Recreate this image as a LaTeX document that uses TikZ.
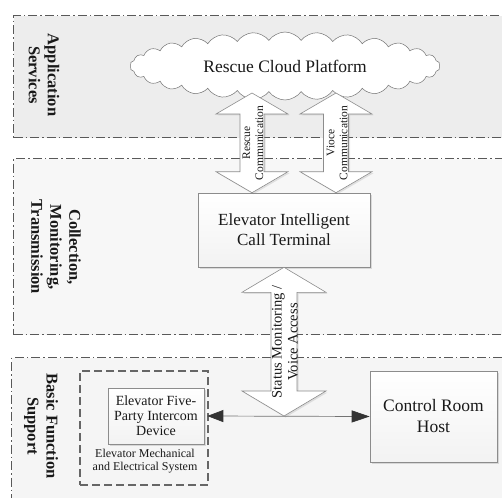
\documentclass[tikz,border=0pt]{standalone}
\usepackage{fontspec}
\setmainfont{Liberation Serif}
\usetikzlibrary{shapes.symbols,shadows,arrows.meta,calc}
\newcommand{\blockarrowv}[5]{% top tip, bottom tip, head half width, shaft half width, head length
  \draw[blk] (#1) -- ++(#3,#5) -- ++({#4-#3},0) -- ($(#2)+(#4,-#5)$) -- ++({#3-#4},0) -- (#2)
    -- ++(-#3,-#5) -- ++({#3-#4},0) -- ($(#1)+(-#4,#5)$) -- ++({#4-#3},0) -- cycle;}
\begin{document}
\begin{tikzpicture}[x=1pt,y=-1pt,
  panel/.style={draw=black!65, line width=1.1pt, dash pattern=on 9pt off 3pt on 1.5pt off 3pt,
    anchor=north west, minimum width=520pt, inner sep=0pt},
  lbl/.style={font=\fontsize{16.5}{19}\selectfont\bfseries, text=black!90, align=center, rotate=-90},
  box/.style={draw=black!45, line width=0.6pt, top color=white, bottom color=black!5,
    align=center, text=black!90, inner sep=0pt,
    drop shadow={opacity=0.25, shadow xshift=1.5pt, shadow yshift=-1.5pt}},
  blk/.style={draw=black!45, line width=0.6pt, fill=white,
    drop shadow={opacity=0.2, shadow xshift=1.5pt, shadow yshift=-1.5pt}},
  alab/.style={rotate=90, align=center, text=black!90},
  conn/.style={draw=black!55, line width=0.7pt,
    {Triangle[length=16pt,width=12pt,color=black!80]}-{Triangle[length=18pt,width=12pt,color=black!80]}}
]
\useasboundingbox (0,0) rectangle (502,497);
\clip (0,0) rectangle (502,497);
\fill[white] (0,0) rectangle (502,497);
% panels
\node[panel, fill=black!7, minimum height=122pt] (p1) at (13,15) {};
\node[panel, fill=black!3, minimum height=176pt] (p2) at (13,158) {};
\node[panel, fill=black!4, minimum height=160pt] (p3) at (11,357) {};
\node[lbl] (l1) at (44,75) {Application\\Services};
\node[lbl] (l2) at (56,247) {Collection,\\Monitoring,\\Transmission};
\node[lbl] (l3) at (41,426) {Basic Function\\Support};
% cloud
\node[cloud, cloud puffs=30, cloud puff arc=110, aspect=4.5, draw=black!55, line width=0.5pt,
  fill=white, minimum width=310pt, minimum height=68pt, inner sep=0pt,
  font=\fontsize{17.5}{20}\selectfont, text=black!90] (cloud) at (285,66) {Rescue Cloud Platform};
% boxes
\node[box, minimum width=172pt, minimum height=74pt, font=\fontsize{17}{20}\selectfont] (term) at (284,230)
  {Elevator Intelligent\\Call Terminal};
\node[box, minimum width=127pt, minimum height=91pt, font=\fontsize{17.5}{21}\selectfont] (ctrl) at (433.5,416.5)
  {Control Room\\Host};
\node[draw=black!60, line width=1.2pt, dash pattern=on 8pt off 4pt, minimum width=128pt, minimum height=114pt,
  inner sep=0pt] (mech) at (144,428) {};
\node[box, minimum width=96pt, minimum height=56pt, font=\fontsize{14}{15}\selectfont] (icom) at (156,416)
  {Elevator Five-\\Party Intercom\\Device};
\node[font=\fontsize{12}{13}\selectfont, align=center, text=black!90] (mechlbl) at (145,461)
  {Elevator Mechanical\\and Electrical System};
% horizontal connector
\draw[conn] ($(icom.east)+(3,0)$) -- (ctrl.west);
% block arrows
\coordinate (a1t) at (252,93);
\coordinate (a1b) at (term.north -| a1t);
\coordinate (a2t) at (336,93);
\coordinate (a2b) at (term.north -| a2t);
\coordinate (a3t) at (term.south);
\coordinate (a3b) at (a3t |- icom.east);
\blockarrowv{a1t}{a1b}{36}{12}{21}
\blockarrowv{a2t}{a2b}{36}{12.5}{21}
\blockarrowv{a3t}{a3b}{42}{13}{25}
\node[alab, font=\fontsize{11.5}{13}\selectfont] (a1l) at (253,143) {Rescue\\Communication};
\node[alab, font=\fontsize{11.5}{13}\selectfont] (a2l) at (337,143) {Vioce\\Communication};
\node[alab, font=\fontsize{14.5}{16}\selectfont] (a3l) at (285,342) {Status Monitoring /\\Voice Access};
\end{tikzpicture}
\end{document}
